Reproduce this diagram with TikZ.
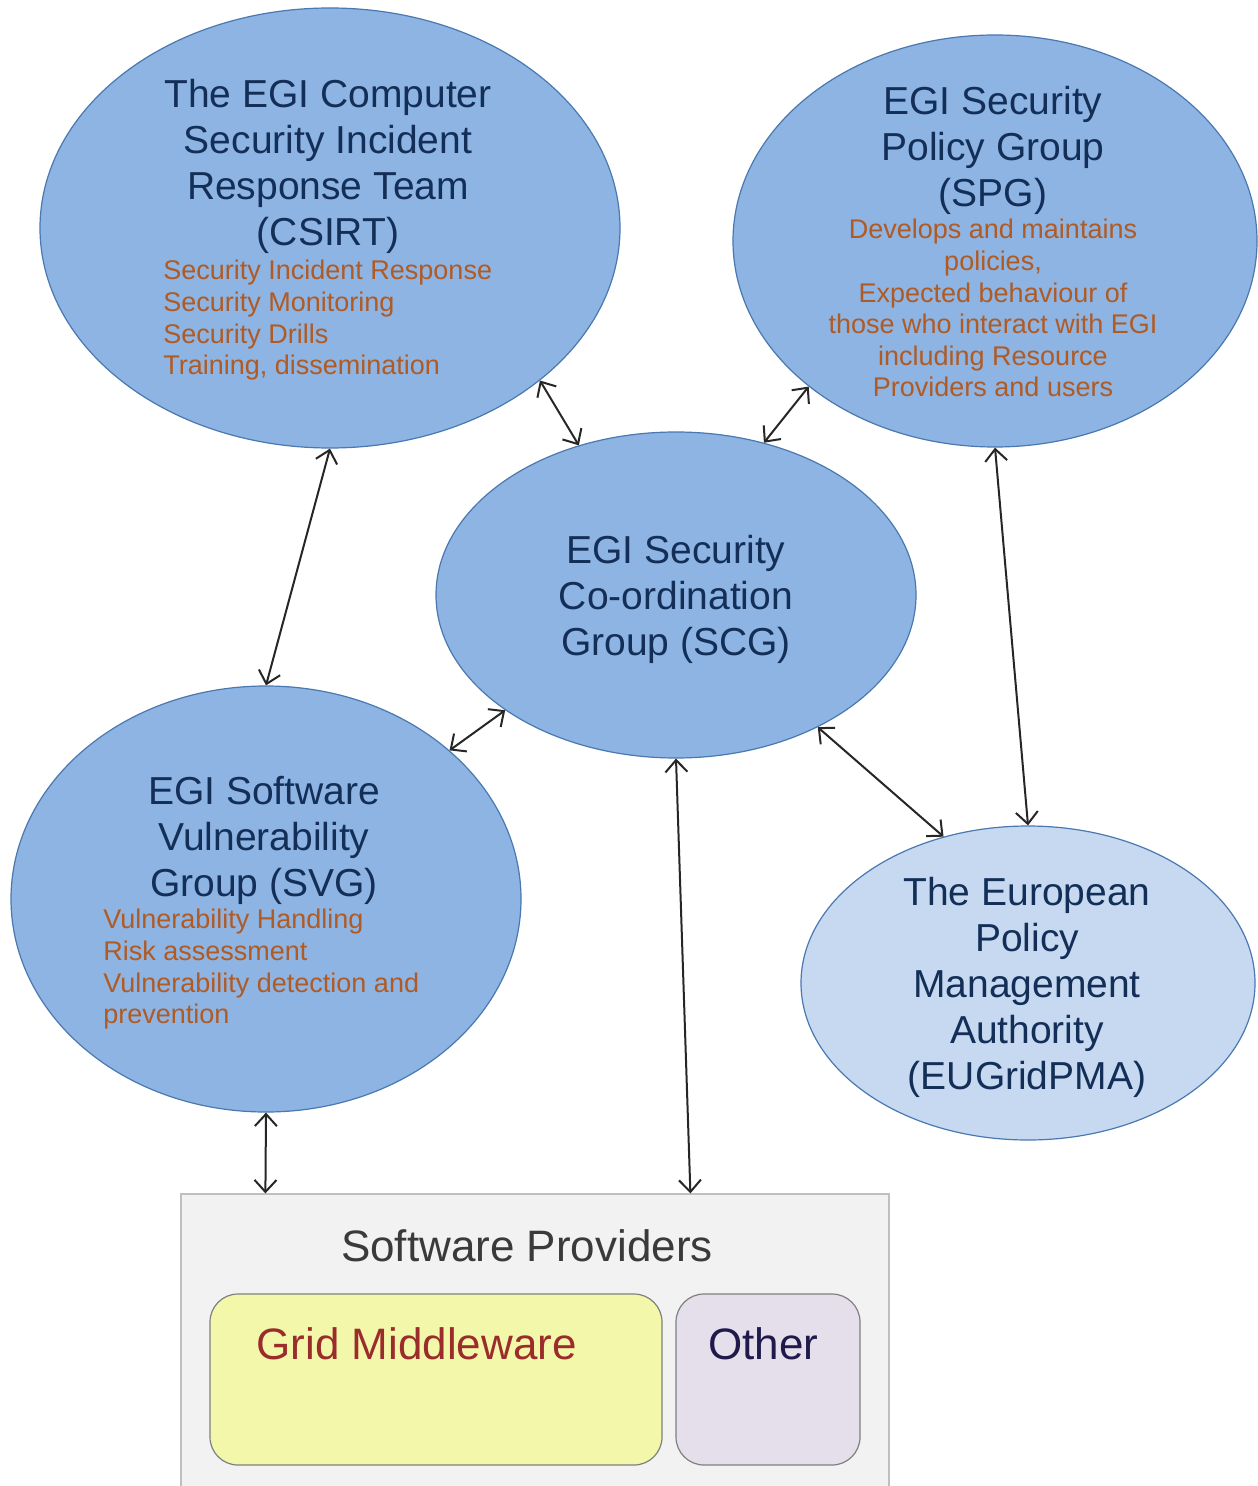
\documentclass[tikz,border=0pt]{standalone}
\usepackage{fontspec}
\setmainfont{Liberation Sans}
\usetikzlibrary{shapes.geometric,arrows.meta}
\definecolor{ellfill}{HTML}{8DB4E2}
\definecolor{ellline}{HTML}{4A78B0}
\definecolor{palefill}{HTML}{C6D9F1}
\definecolor{titlecol}{HTML}{132F58}
\definecolor{subcol}{HTML}{B05A24}
\definecolor{arrowcol}{HTML}{262626}
\definecolor{spfill}{HTML}{F2F2F2}
\definecolor{spline}{HTML}{BFBFBF}
\definecolor{gmfill}{HTML}{F3F7A9}
\definecolor{gmtext}{HTML}{9B2C2C}
\definecolor{otfill}{HTML}{E5DFEC}
\definecolor{ottext}{HTML}{1F1A4A}
\definecolor{boxline}{HTML}{7F7F7F}
\definecolor{sptext}{HTML}{3A3A3A}
\begin{document}
\begin{tikzpicture}[x=0.5pt,y=-0.5pt,
  blob/.style={ellipse, draw=ellline, line width=0.6pt, fill=ellfill, inner sep=0pt},
  title/.style={text=titlecol, font=\fontsize{19.5}{23}\selectfont, align=center, inner sep=0pt, anchor=north},
  sub/.style={text=subcol, font=\fontsize{13.5}{15.8}\selectfont, inner sep=0pt},
  link/.style={draw=arrowcol, line width=1pt, {Straight Barb[length=6pt,width=11pt]}-{Straight Barb[length=6pt,width=11pt]}},
  inbox/.style={draw=boxline, line width=0.6pt, rounded corners=14pt, inner sep=0pt, minimum height=85.5pt},
  boxtext/.style={font=\fontsize{22}{26}\selectfont, inner sep=0pt, anchor=base west}
]
\useasboundingbox (0,0) rectangle (1257,1486);

% ellipses
\node[blob, minimum width=290pt, minimum height=220pt] (csirt) at (330,228) {};
\node[blob, minimum width=262pt, minimum height=206pt] (spg) at (995,241) {};
\node[blob, minimum width=240pt, minimum height=163pt] (scg) at (676,595) {};
\node[blob, minimum width=255pt, minimum height=213pt] (svg) at (266,899) {};
\node[blob, fill=palefill, minimum width=227pt, minimum height=157pt] (eu) at (1028,983) {};

% texts
\node[title] (csirtT) at (328,79) {The EGI Computer\\Security Incident\\Response Team\\(CSIRT)};
\node[sub, anchor=north west, align=left] (csirtS) at (163,260) {Security Incident Response\\Security Monitoring\\Security Drills\\Training, dissemination};
\node[title] (spgT) at (993,86) {EGI Security\\Policy Group\\(SPG)};
\node[sub, anchor=north, align=center] (spgS) at (993,219) {Develops and maintains\\policies,\\Expected behaviour of\\those who interact with EGI\\including Resource\\Providers and users};
\node[title] (scgT) at (676,535) {EGI Security\\Co-ordination\\Group (SCG)};
\node[title] (svgT) at (264,776) {EGI Software\\Vulnerability\\Group (SVG)};
\node[sub, anchor=north west, align=left] (svgS) at (103,909) {Vulnerability Handling\\Risk assessment\\Vulnerability detection and\\prevention};
\node[title] (euT) at (1027,877) {The European\\Policy\\Management\\Authority\\(EUGridPMA)};

% software providers
\node[draw=spline, fill=spfill, line width=0.6pt, inner sep=0pt, minimum width=354pt, minimum height=153pt] (sp) at (535,1347) {};
\node[boxtext, text=sptext, anchor=base] (spT) at (527,1261) {Software Providers};
\node[inbox, fill=gmfill, minimum width=226pt] (gm) at (436,1379.5) {};
\node[boxtext, text=gmtext] (gmT) at (256,1359) {Grid Middleware};
\node[inbox, fill=otfill, minimum width=92pt] (ot) at (768,1379.5) {};
\node[boxtext, text=ottext] (otT) at (708,1359) {Other};

% connectors
\draw[link] (csirt.-36.8) -- (scg.123.1);
\draw[link] (spg.218.3) -- (scg.60.2);
\draw[link] (csirt.-90) -- (svg.90);
\draw[link] (spg.-90) -- (eu.90);
\draw[link] (scg.214.2) -- (svg.39.4);
\draw[link] (scg.-43.8) -- (eu.120.7);
\draw[link] (scg.south) -- ([xshift=255pt]sp.north west);
\draw[link] (svg.south) -- ([xshift=42.5pt]sp.north west);
\end{tikzpicture}
\end{document}
